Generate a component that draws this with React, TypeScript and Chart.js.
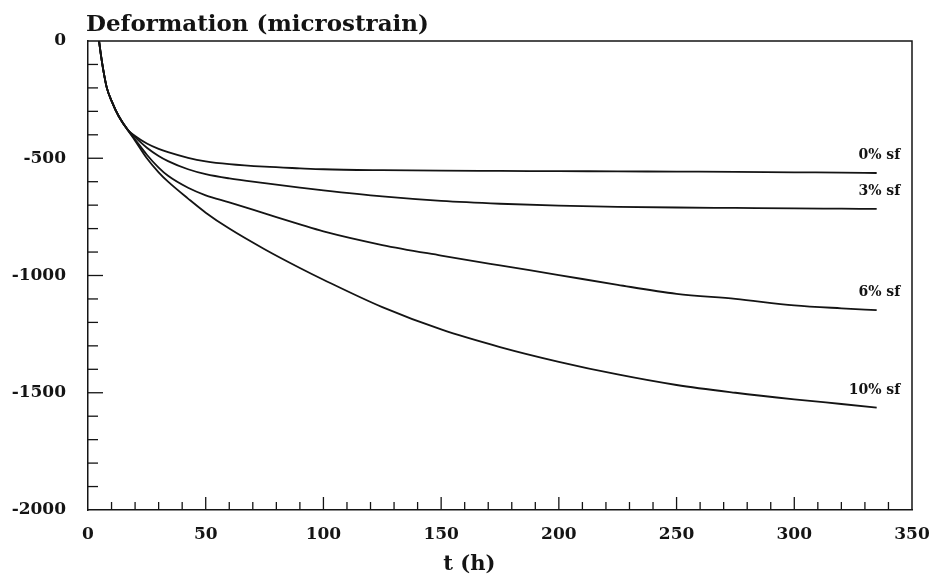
import React, { useEffect, useRef } from "react";
import { Chart, registerables } from "chart.js";

Chart.register(...registerables);

const times = [4.7, 5.5, 6.5, 8, 10, 13, 17, 20, 25, 30, 34, 42.5, 50, 60, 75, 90, 100, 125, 150, 175, 200, 225, 250, 275, 300, 320, 335];

const sf0 = [0, -60, -124, -200, -255, -320, -380, -405, -437, -460, -474, -498, -513, -525, -536, -543, -547, -551, -553, -554, -555, -556, -557, -558, -560, -561, -563];
const sf3 = [0, -60, -124, -200, -255, -320, -380, -410, -455, -490, -512, -547, -568, -586, -606, -625, -637, -663, -682, -694, -702, -707, -710, -712, -714, -715, -716];
const sf6 = [0, -60, -124, -200, -255, -320, -381, -420, -485, -540, -575, -626, -658, -688, -735, -782, -812, -870, -915, -957, -998, -1040, -1078, -1100, -1127, -1140, -1148];
const sf10 = [0, -60, -124, -200, -255, -320, -382, -425, -500, -560, -600, -672, -732, -800, -888, -968, -1018, -1135, -1230, -1305, -1368, -1422, -1467, -1500, -1528, -1548, -1563];

const seriesLabels = ["0% sf", "3% sf", "6% sf", "10% sf"];
const seriesValues = [sf0, sf3, sf6, sf10];

const xTickValues = [0, 50, 100, 150, 200, 250, 300, 350];
const yTickValues = [0, -500, -1000, -1500, -2000];

const yTitle = "Deformation (microstrain)";
const xTitle = "t (h)";
const labelAnchorT = 345;

const FONT = "'DejaVu Serif', serif";
const INK = "#141414";

const decorPlugin = {
  id: "decor",
  afterDraw(chart: any) {
    const { ctx, chartArea } = chart;
    const xs = chart.scales.x;
    const ys = chart.scales.y;
    ctx.save();
    ctx.strokeStyle = INK;
    ctx.lineWidth = 1.5;
    ctx.beginPath();
    ctx.moveTo(chartArea.left, chartArea.top);
    ctx.lineTo(chartArea.right, chartArea.top);
    ctx.lineTo(chartArea.right, chartArea.bottom);
    ctx.stroke();
    ctx.lineWidth = 1.3;
    for (let t = 10; t < 350; t += 10) {
      const px = xs.getPixelForValue(t);
      const len = t % 50 === 0 ? 13 : 8;
      ctx.beginPath();
      ctx.moveTo(px, chartArea.bottom);
      ctx.lineTo(px, chartArea.bottom - len);
      ctx.stroke();
    }
    for (let v = -1900; v < 0; v += 100) {
      const py = ys.getPixelForValue(v);
      const len = v % 500 === 0 ? 15 : 10;
      ctx.beginPath();
      ctx.moveTo(chartArea.left, py);
      ctx.lineTo(chartArea.left + len, py);
      ctx.stroke();
    }
    ctx.fillStyle = INK;
    ctx.font = `bold 23px ${FONT}`;
    ctx.textAlign = "left";
    ctx.textBaseline = "alphabetic";
    ctx.fillText(yTitle, chartArea.left - 2, 31);
    ctx.font = `bold 21px ${FONT}`;
    ctx.textAlign = "center";
    ctx.fillText(xTitle, xs.getPixelForValue(162), 570);
    ctx.font = `bold 14px ${FONT}`;
    ctx.textAlign = "right";
    seriesValues.forEach((vals, i) => {
      const last = vals[vals.length - 1];
      ctx.fillText(seriesLabels[i], xs.getPixelForValue(labelAnchorT), ys.getPixelForValue(last) - 14);
    });
    ctx.restore();
  },
};

export default function App() {
  const ref = useRef<HTMLCanvasElement | null>(null);
  useEffect(() => {
    if (!ref.current) return;
    const chart = new Chart(ref.current, {
      type: "line",
      data: {
        datasets: seriesValues.map((vals, i) => ({
          label: seriesLabels[i],
          data: times.map((t, j) => ({ x: t, y: vals[j] })),
          borderColor: INK,
          borderWidth: 1.8,
          pointRadius: 0,
          fill: false,
          cubicInterpolationMode: "monotone" as const,
        })),
      },
      options: {
        responsive: false,
        animation: false,
        layout: { padding: { left: 0, right: 18, top: 41, bottom: 0 } },
        plugins: { legend: { display: false }, tooltip: { enabled: false }, title: { display: false } },
        scales: {
          x: {
            type: "linear",
            min: 0,
            max: 350,
            afterFit: (s: any) => { s.height = 65; s.paddingLeft = 0; s.paddingRight = 0; },
            afterBuildTicks: (s: any) => { s.ticks = xTickValues.map((v) => ({ value: v })); },
            ticks: { font: { family: FONT, size: 17, weight: "bold" }, color: INK, padding: 14, maxRotation: 0, callback: (v: any) => String(v) },
            grid: { display: false, drawTicks: false },
            border: { display: true, color: INK, width: 1.5 },
          },
          y: {
            type: "linear",
            min: -2000,
            max: 0,
            afterFit: (s: any) => { s.width = 88; s.paddingTop = 0; s.paddingBottom = 0; },
            afterBuildTicks: (s: any) => { s.ticks = yTickValues.map((v) => ({ value: v })); },
            ticks: { font: { family: FONT, size: 17, weight: "bold" }, color: INK, padding: 22, callback: (v: any) => String(v) },
            grid: { display: false, drawTicks: false },
            border: { display: true, color: INK, width: 1.5 },
          },
        },
      },
      plugins: [decorPlugin],
    });
    return () => chart.destroy();
  }, []);
  return (
    <div style={{ position: "fixed", left: 0, top: 0, width: 930, height: 575, background: "#fff" }}>
      <canvas ref={ref} width={930} height={575} />
    </div>
  );
}
